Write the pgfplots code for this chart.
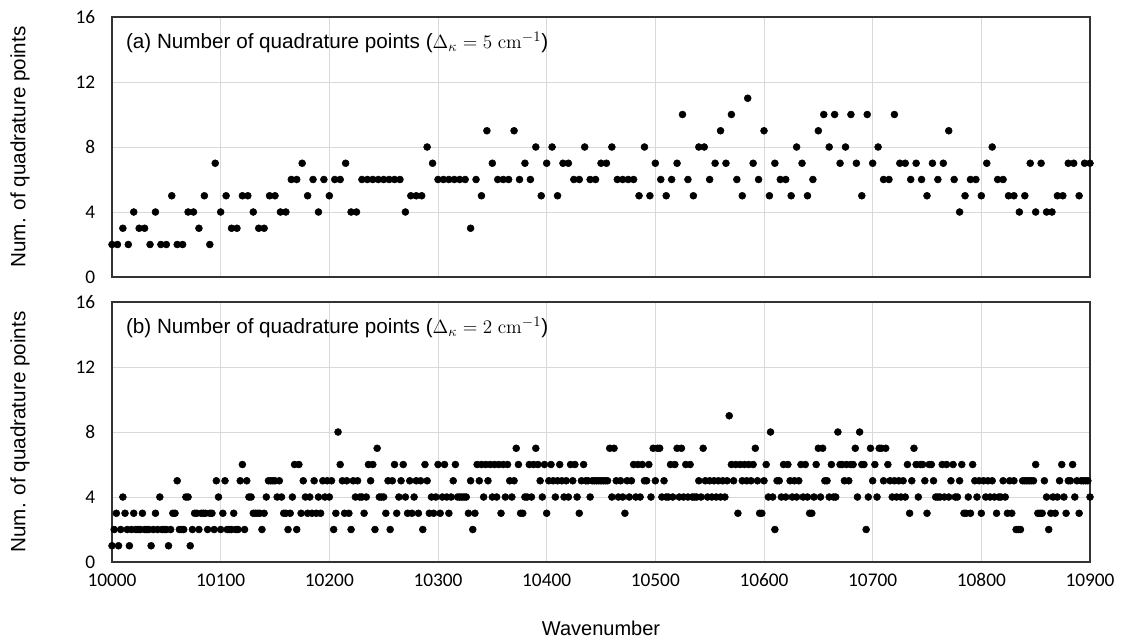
\documentclass[border=0pt]{standalone}
\usepackage[no-math]{fontspec}
\setmainfont{Liberation Sans}
\newfontfamily\tickfont{Carlito}
\usepackage{pgfplots}
\pgfplotsset{compat=1.18}
\pgfplotsset{qp/.style={
  scale only axis, width=733.5pt, height=195pt,
  xmin=10000, xmax=10900, ymin=0, ymax=16,
  xtick={10000,10100,...,10900}, ytick={0,4,8,12,16},
  scaled x ticks=false, scaled y ticks=false,
  grid=major, major grid style={color=black!15, line width=0.7pt},
  axis line style={black!80, line width=0.9pt},
  tick style={draw=none},
  ticklabel style={font=\tickfont\fontsize{14.5}{14.5}\selectfont},
  /pgf/number format/assume math mode=true,
  /pgf/number format/1000 sep={},
  yticklabel style={xshift=-9pt},
  xticklabel style={yshift=-4.5pt, text height=10pt, text depth=0pt},
  ylabel={Num. of quadrature points},
  ylabel style={at={(axis description cs:-0.094,0.5)}, anchor=center, font=\fontsize{15.5}{15.5}\selectfont},
  cycle list={{black, mark=*, mark options={fill=black, draw=black}}},
  every axis plot/.append style={only marks, mark size=2.6pt},
}}
\begin{document}
\begin{tikzpicture}
\begin{axis}[qp, name=top, xticklabels={}]
\addplot coordinates {(10000,2)(10005,2)(10010,3)(10015,2)(10020,4)(10025,3)(10030,3)(10035,2)(10040,4)(10045,2)(10050,2)(10055,5)(10060,2)(10065,2)(10070,4)(10075,4)(10080,3)(10085,5)(10090,2)(10095,7)(10100,4)(10105,5)(10110,3)(10115,3)(10120,5)(10125,5)(10130,4)(10135,3)(10140,3)(10145,5)(10150,5)(10155,4)(10160,4)(10165,6)(10170,6)(10175,7)(10180,5)(10185,6)(10190,4)(10195,6)(10200,5)(10205,6)(10210,6)(10215,7)(10220,4)(10225,4)(10230,6)(10235,6)(10240,6)(10245,6)(10250,6)(10255,6)(10260,6)(10265,6)(10270,4)(10275,5)(10280,5)(10285,5)(10290,8)(10295,7)(10300,6)(10305,6)(10310,6)(10315,6)(10320,6)(10325,6)(10330,3)(10335,6)(10340,5)(10345,9)(10350,7)(10355,6)(10360,6)(10365,6)(10370,9)(10375,6)(10380,7)(10385,6)(10390,8)(10395,5)(10400,7)(10405,8)(10410,5)(10415,7)(10420,7)(10425,6)(10430,6)(10435,8)(10440,6)(10445,6)(10450,7)(10455,7)(10460,8)(10465,6)(10470,6)(10475,6)(10480,6)(10485,5)(10490,8)(10495,5)(10500,7)(10505,6)(10510,5)(10515,6)(10520,7)(10525,10)(10530,6)(10535,5)(10540,8)(10545,8)(10550,6)(10555,7)(10560,9)(10565,7)(10570,10)(10575,6)(10580,5)(10585,11)(10590,7)(10595,6)(10600,9)(10605,5)(10610,7)(10615,6)(10620,6)(10625,5)(10630,8)(10635,7)(10640,5)(10645,6)(10650,9)(10655,10)(10660,8)(10665,10)(10670,7)(10675,8)(10680,10)(10685,7)(10690,5)(10695,10)(10700,7)(10705,8)(10710,6)(10715,6)(10720,10)(10725,7)(10730,7)(10735,6)(10740,7)(10745,6)(10750,5)(10755,7)(10760,6)(10765,7)(10770,9)(10775,6)(10780,4)(10785,5)(10790,6)(10795,6)(10800,5)(10805,7)(10810,8)(10815,6)(10820,6)(10825,5)(10830,5)(10835,4)(10840,5)(10845,7)(10850,4)(10855,7)(10860,4)(10865,4)(10870,5)(10875,5)(10880,7)(10885,7)(10890,5)(10895,7)(10900,7)};
\node[anchor=west, font=\fontsize{15.5}{15.5}\selectfont] at ([xshift=7pt,yshift=-19pt]rel axis cs:0,1) {(a) Number of quadrature points ($\Delta_\kappa = 5\ \mathrm{cm}^{-1}$)};
\end{axis}
\begin{axis}[qp, name=bot, at={(top.south west)}, anchor=north west, yshift=-18.75pt,
  xlabel={Wavenumber},
  xlabel style={at={(axis description cs:0.5,-0.254)}, anchor=center, font=\fontsize{15}{15}\selectfont}]
\addplot coordinates {(10000,1)(10002,2)(10004,3)(10006,1)(10008,2)(10010,4)(10012,3)(10014,2)(10016,1)(10018,2)
(10020,3)(10022,2)(10024,2)(10026,2)(10028,3)(10030,2)(10032,2)(10034,2)(10036,1)(10038,2)
(10040,3)(10042,2)(10044,4)(10046,2)(10048,2)(10050,2)(10052,1)(10054,2)(10056,3)(10058,3)
(10060,5)(10062,2)(10064,2)(10066,2)(10068,4)(10070,4)(10072,1)(10074,2)(10076,3)(10078,3)
(10080,2)(10082,3)(10084,3)(10086,3)(10088,2)(10090,3)(10092,3)(10094,2)(10096,5)(10098,4)
(10100,2)(10102,3)(10104,5)(10106,2)(10108,2)(10110,2)(10112,3)(10114,2)(10116,2)(10118,5)
(10120,6)(10122,2)(10124,5)(10126,4)(10128,4)(10130,3)(10132,3)(10134,3)(10136,3)(10138,2)
(10140,3)(10142,4)(10144,5)(10146,5)(10148,5)(10150,5)(10152,4)(10154,5)(10156,4)(10158,3)
(10160,3)(10162,2)(10164,3)(10166,4)(10168,6)(10170,2)(10172,6)(10174,3)(10176,5)(10178,4)
(10180,3)(10182,4)(10184,3)(10186,5)(10188,3)(10190,4)(10192,3)(10194,5)(10196,4)(10198,5)
(10200,4)(10202,5)(10204,2)(10206,3)(10208,8)(10210,6)(10212,5)(10214,3)(10216,5)(10218,3)
(10220,2)(10222,5)(10224,4)(10226,5)(10228,4)(10230,4)(10232,3)(10234,4)(10236,6)(10238,5)
(10240,6)(10242,2)(10244,7)(10246,4)(10248,4)(10250,4)(10252,3)(10254,5)(10256,2)(10258,5)
(10260,6)(10262,3)(10264,4)(10266,5)(10268,6)(10270,4)(10272,3)(10274,5)(10276,3)(10278,4)
(10280,5)(10282,3)(10284,5)(10286,2)(10288,6)(10290,5)(10292,3)(10294,4)(10296,3)(10298,4)
(10300,6)(10302,3)(10304,4)(10306,6)(10308,4)(10310,3)(10312,4)(10314,5)(10316,6)(10318,4)
(10320,4)(10322,4)(10324,4)(10326,4)(10328,3)(10330,5)(10332,2)(10334,3)(10336,6)(10338,5)
(10340,6)(10342,4)(10344,6)(10346,5)(10348,6)(10350,4)(10352,6)(10354,4)(10356,6)(10358,3)
(10360,6)(10362,4)(10364,6)(10366,5)(10368,4)(10370,5)(10372,7)(10374,6)(10376,3)(10378,3)
(10380,4)(10382,4)(10384,6)(10386,4)(10388,6)(10390,7)(10392,6)(10394,5)(10396,4)(10398,6)
(10400,3)(10402,5)(10404,6)(10406,5)(10408,4)(10410,5)(10412,6)(10414,5)(10416,4)(10418,5)
(10420,4)(10422,6)(10424,5)(10426,6)(10428,4)(10430,3)(10432,5)(10434,6)(10436,5)(10438,5)
(10440,4)(10442,5)(10444,5)(10446,5)(10448,5)(10450,5)(10452,5)(10454,5)(10456,5)(10458,7)
(10460,4)(10462,7)(10464,5)(10466,4)(10468,5)(10470,4)(10472,3)(10474,5)(10476,4)(10478,5)
(10480,6)(10482,4)(10484,6)(10486,4)(10488,6)(10490,5)(10492,5)(10494,6)(10496,4)(10498,7)
(10500,5)(10502,7)(10504,7)(10506,4)(10508,5)(10510,4)(10512,4)(10514,6)(10516,4)(10518,6)
(10520,7)(10522,4)(10524,7)(10526,4)(10528,6)(10530,4)(10532,6)(10534,4)(10536,4)(10538,4)
(10540,5)(10542,4)(10544,7)(10546,5)(10548,4)(10550,5)(10552,4)(10554,5)(10556,4)(10558,5)
(10560,4)(10562,5)(10564,4)(10566,5)(10568,9)(10570,6)(10572,5)(10574,6)(10576,3)(10578,6)
(10580,5)(10582,6)(10584,5)(10586,6)(10588,5)(10590,6)(10592,7)(10594,5)(10596,3)(10598,3)
(10600,5)(10602,6)(10604,4)(10606,8)(10608,4)(10610,2)(10612,5)(10614,5)(10616,4)(10618,6)
(10620,4)(10622,6)(10624,5)(10626,4)(10628,5)(10630,4)(10632,5)(10634,6)(10636,4)(10638,6)
(10640,4)(10642,3)(10644,3)(10646,4)(10648,6)(10650,7)(10652,4)(10654,7)(10656,5)(10658,5)
(10660,4)(10662,6)(10664,4)(10666,4)(10668,8)(10670,6)(10672,6)(10674,5)(10676,6)(10678,5)
(10680,6)(10682,6)(10684,7)(10686,4)(10688,8)(10690,6)(10692,6)(10694,2)(10696,4)(10698,7)
(10700,5)(10702,6)(10704,4)(10706,7)(10708,7)(10710,5)(10712,7)(10714,6)(10716,5)(10718,4)
(10720,5)(10722,4)(10724,5)(10726,4)(10728,5)(10730,4)(10732,6)(10734,3)(10736,5)(10738,7)
(10740,6)(10742,4)(10744,6)(10746,6)(10748,5)(10750,3)(10752,6)(10754,6)(10756,5)(10758,4)
(10760,4)(10762,4)(10764,6)(10766,4)(10768,6)(10770,4)(10772,5)(10774,6)(10776,4)(10778,4)
(10780,5)(10782,6)(10784,3)(10786,3)(10788,4)(10790,3)(10792,6)(10794,5)(10796,4)(10798,5)
(10800,3)(10802,5)(10804,4)(10806,5)(10808,4)(10810,5)(10812,4)(10814,3)(10816,4)(10818,4)
(10820,5)(10822,4)(10824,3)(10826,5)(10828,3)(10830,5)(10832,2)(10834,2)(10836,2)(10838,5)
(10840,5)(10842,5)(10844,5)(10846,5)(10848,5)(10850,6)(10852,3)(10854,3)(10856,3)(10858,5)
(10860,4)(10862,2)(10864,3)(10866,4)(10868,3)(10870,4)(10872,5)(10874,6)(10876,4)(10878,3)
(10880,5)(10882,5)(10884,6)(10886,4)(10888,5)(10890,3)(10892,5)(10894,5)(10896,5)(10898,5)(10900,4)};
\node[anchor=west, font=\fontsize{15.5}{15.5}\selectfont] at ([xshift=7pt,yshift=-19pt]rel axis cs:0,1) {(b) Number of quadrature points ($\Delta_\kappa = 2\ \mathrm{cm}^{-1}$)};
\end{axis}
\pgfresetboundingbox
\path[use as bounding box] ([xshift=-84pt,yshift=12.75pt]top.north west) rectangle ([xshift=25.5pt,yshift=-60.75pt]bot.south east);
\end{tikzpicture}
\end{document}
